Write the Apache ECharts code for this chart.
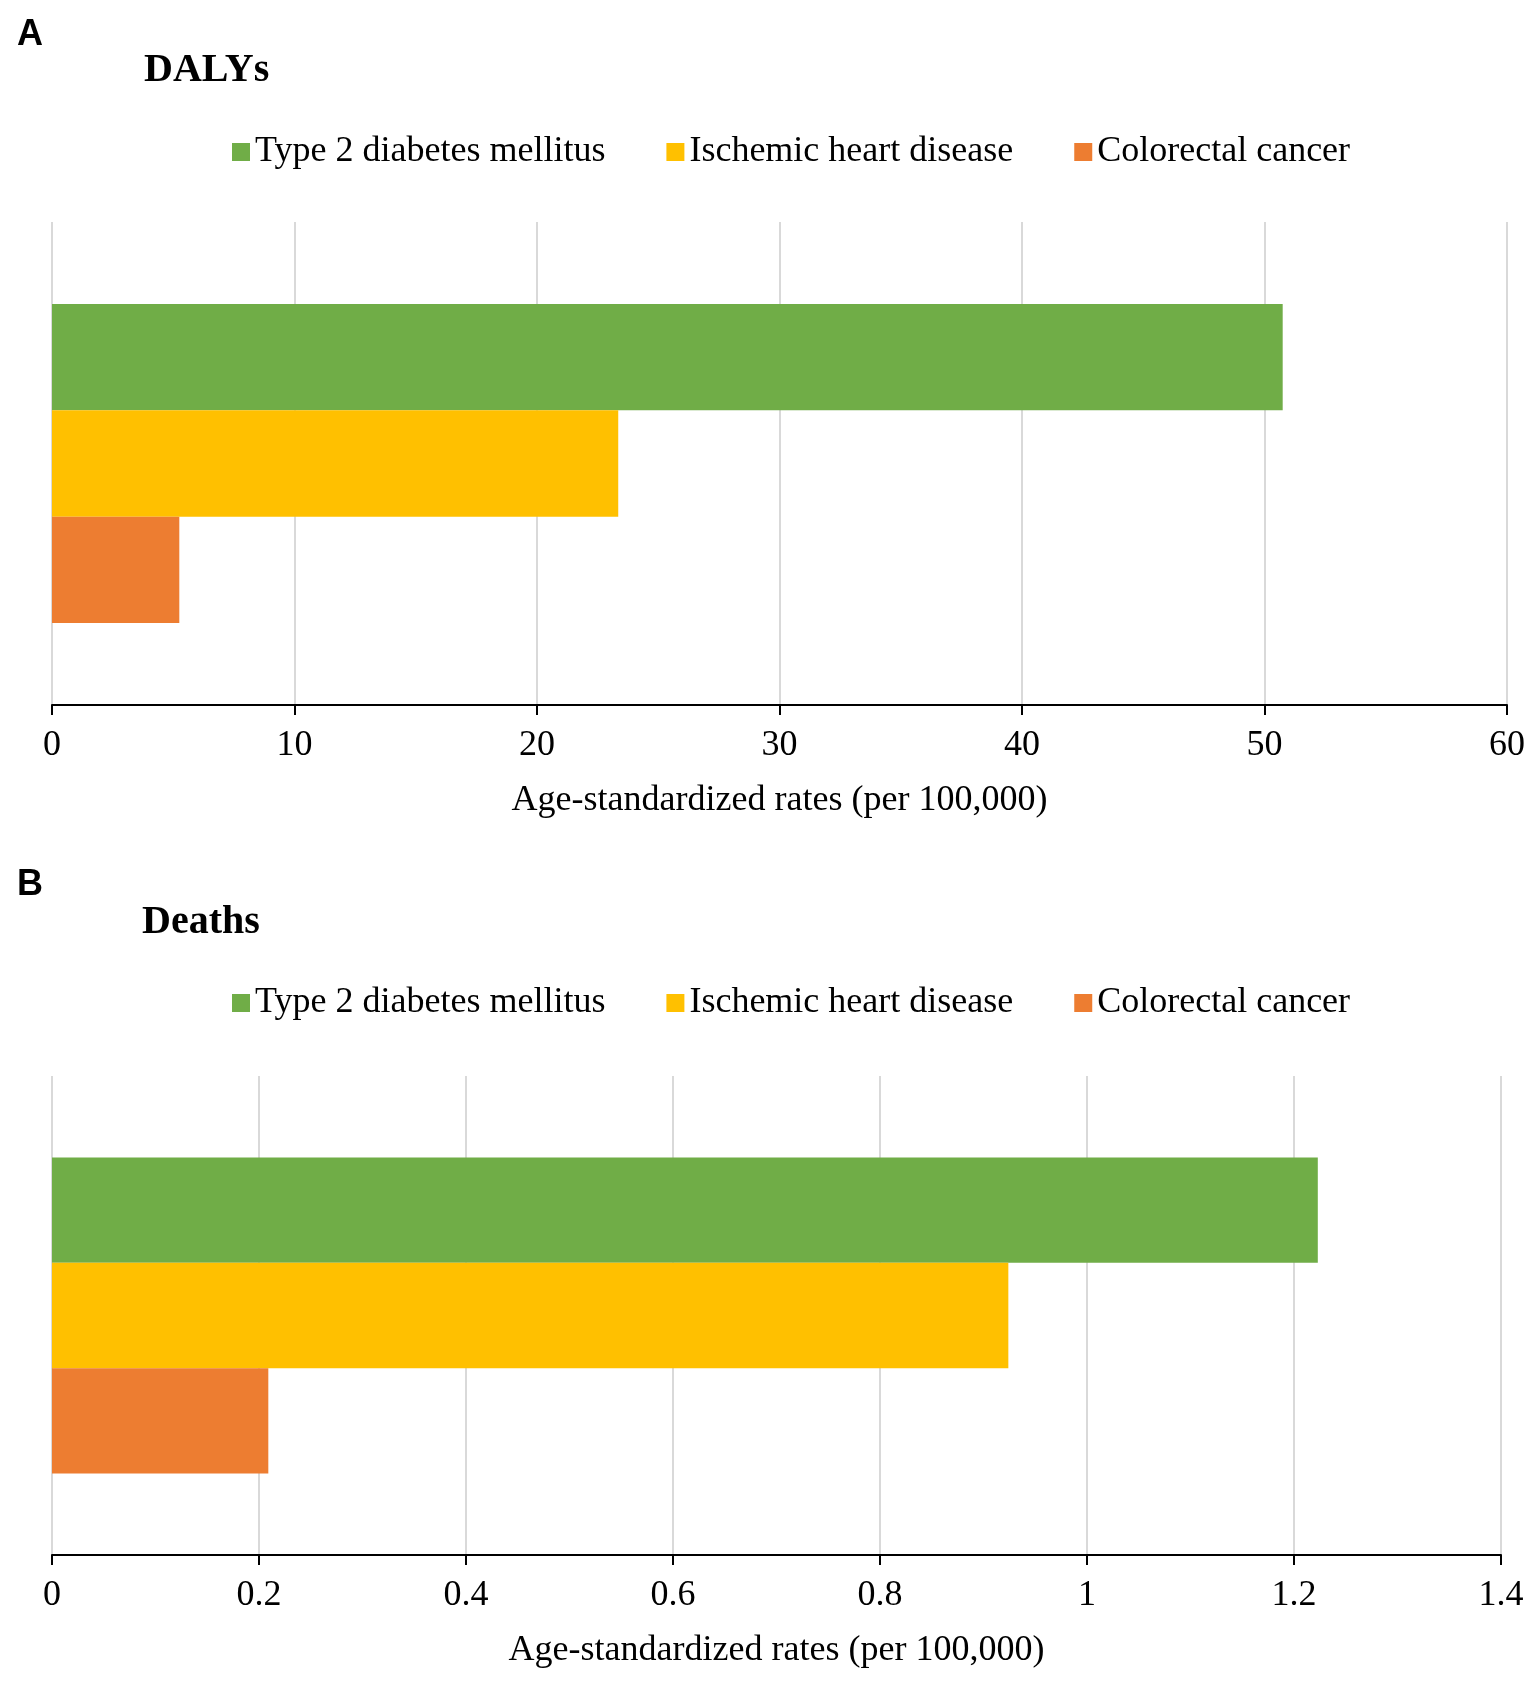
<!DOCTYPE html>
<html>
<head>
<meta charset="utf-8">
<script src="https://cdn.jsdelivr.net/npm/echarts@6/dist/echarts.min.js"></script>
<style>
  html, body { margin: 0; padding: 0; background: #fff; }
  #chart { width: 1537px; height: 1687px; }
</style>
</head>
<body>
<div id="chart"></div>
<script>
// data
const diseases = ['Type 2 diabetes mellitus', 'Ischemic heart disease', 'Colorectal cancer'];
const colors = ['#70AD47', '#FFC000', '#ED7D31'];
const dalys = [50.75, 23.35, 5.25];
const deaths = [1.223, 0.924, 0.209];
const dalyTicks = { min: 0, max: 60, interval: 10 };
const deathTicks = { min: 0, max: 1.4, interval: 0.2 };
const axisName = 'Age-standardized rates (per 100,000)';

const serif = '"Liberation Serif", "Times New Roman", serif';
const sans = '"Liberation Sans", Arial, sans-serif';

let myChart = echarts.init(document.getElementById('chart'));

function makeLegend(top) {
    return {
        top: top,
        left: 227,
        icon: 'rect',
        itemWidth: 18,
        itemHeight: 18,
        itemGap: 61,
        data: diseases,
        textStyle: { fontFamily: serif, fontSize: 36, color: '#000', padding: [0, 0, 0, 0] }
    };
}

function makeXAxis(gridIndex, ticks) {
    return {
        gridIndex: gridIndex,
        type: 'value',
        min: ticks.min,
        max: ticks.max,
        interval: ticks.interval,
        name: axisName,
        nameLocation: 'middle',
        nameGap: 78,
        nameTextStyle: { fontFamily: serif, fontSize: 36, color: '#000' },
        axisLine: { show: true, lineStyle: { color: '#000', width: 2 } },
        axisTick: { show: true, length: 10, lineStyle: { color: '#000', width: 2 } },
        axisLabel: { fontFamily: serif, fontSize: 36, color: '#000', margin: 23 },
        splitLine: { show: true, lineStyle: { color: '#D9D9D9', width: 2 } }
    };
}

function makeYAxis(gridIndex) {
    return {
        gridIndex: gridIndex,
        type: 'category',
        data: [''],
        inverse: true,
        axisLine: { show: false },
        axisTick: { show: false },
        axisLabel: { show: false }
    };
}

let series = [];
[dalys, deaths].forEach(function (vals, g) {
    diseases.forEach(function (name, i) {
        series.push({
            name: name,
            type: 'bar',
            xAxisIndex: g,
            yAxisIndex: g,
            barGap: '0%',
            barCategoryGap: '34%',
            itemStyle: { color: colors[i] },
            data: [vals[i]]
        });
    });
});

myChart.setOption({
    animation: false,
    backgroundColor: '#fff',
    title: [
        { text: 'A', left: 12, top: 12, textStyle: { fontFamily: sans, fontSize: 36, fontWeight: 'bold', color: '#000' } },
        { text: 'DALYs', left: 139, top: 46, textStyle: { fontFamily: serif, fontSize: 40, fontWeight: 'bold', color: '#000' } },
        { text: 'B', left: 12, top: 862, textStyle: { fontFamily: sans, fontSize: 36, fontWeight: 'bold', color: '#000' } },
        { text: 'Deaths', left: 137, top: 898, textStyle: { fontFamily: serif, fontSize: 40, fontWeight: 'bold', color: '#000' } }
    ],
    legend: [makeLegend(129), makeLegend(980)],
    grid: [
        { left: 52, right: 30, top: 222, height: 483 },
        { left: 52, right: 36, top: 1076, height: 479 }
    ],
    xAxis: [makeXAxis(0, dalyTicks), makeXAxis(1, deathTicks)],
    yAxis: [makeYAxis(0), makeYAxis(1)],
    series: series
});
</script>
</body>
</html>
